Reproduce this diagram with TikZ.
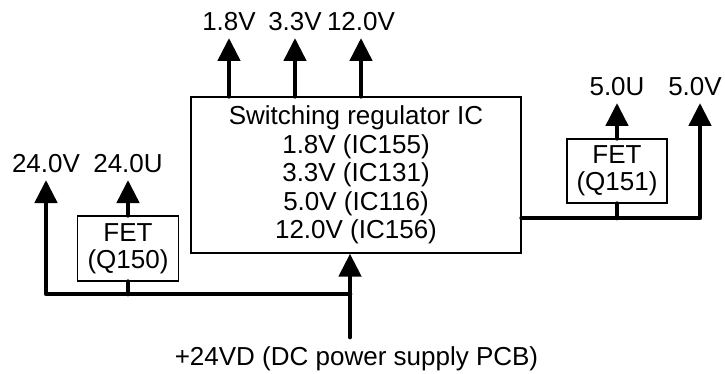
\documentclass[tikz,border=0pt]{standalone}
\usepackage{fontspec}
\setmainfont{Liberation Sans}
\usepackage{tikz}
\usetikzlibrary{arrows.meta,positioning,calc}

\begin{document}
\begin{tikzpicture}[x=1pt,y=-1pt,
font=\fontsize{26}{28.6}\selectfont,
box/.style={draw,line width=1.3pt,inner sep=0pt,align=center},
lbl/.style={anchor=south,inner sep=7pt},
pwr/.style={line width=4.7pt,line cap=round,line join=round},
arr/.style={pwr,-{Triangle[length=23pt,width=22pt]}}
]
\useasboundingbox (0,0) rectangle (725,374);
\node[box,minimum width=330pt,minimum height=156pt] (reg) at (356,175) {Switching regulator IC\\1.8V (IC155)\\3.3V (IC131)\\5.0V (IC116)\\12.0V (IC156)};
\node[box,minimum width=101pt,minimum height=65pt,font=\fontsize{26}{27}\selectfont] (fetA) at (128,248.5) {FET\\(Q150)};
\node[box,minimum width=100pt,minimum height=64pt,font=\fontsize{26}{27}\selectfont] (fetB) at (617,171) {FET\\(Q151)};
\node[lbl] (v18) at (229,38) {1.8V};
\node[lbl] (v33) at (295,38) {3.3V};
\node[lbl] (v120) at (361,38) {12.0V};
\node[lbl] (v240) at (46,180) {24.0V};
\node[lbl] (u240) at (128,180) {24.0U};
\node[lbl] (u50) at (617,103) {5.0U};
\coordinate (tip5) at (700,103);
\node[lbl,xshift=-5pt] (v50) at (tip5) {5.0V};
\node[anchor=base] (dcin) at (356.5,365) {+24VD (DC power supply PCB)};
\coordinate (src) at (350,337);
\coordinate (jL) at (350,294);
\coordinate (jR) at (617,218);

\draw[arr] (reg.north -| v18) -- (v18.south);
\draw[arr] (reg.north -| v33) -- (v33.south);
\draw[arr] (reg.north -| v120) -- (v120.south);
\draw[arr] (src) -- (reg.south -| src);
\draw[arr] (jL) -| (v240.south);
\draw[pwr] (fetA.south) -- (fetA.south |- jL);
\draw[arr] (fetA.north) -- (u240.south);
\draw[arr] (reg.east |- jR) -| (tip5);
\draw[pwr] (fetB.south) -- (jR);
\draw[arr] (fetB.north) -- (u50.south);
\end{tikzpicture}
\end{document}
